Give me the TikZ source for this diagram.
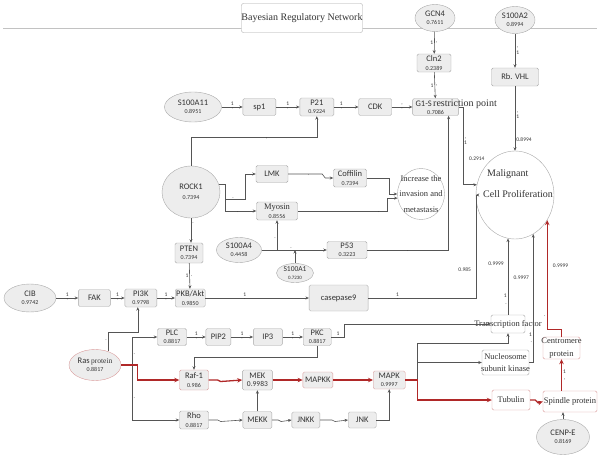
\documentclass[tikz,border=0pt]{standalone}
\usepackage{fontspec}
\setmainfont{Liberation Serif}
\newfontfamily\lblfont{Carlito}
\usepackage{tikz}
\usetikzlibrary{arrows.meta,positioning,shapes.geometric,backgrounds}
\definecolor{boxfill}{HTML}{EDEDED}
\definecolor{boxline}{HTML}{A8A8A8}
\definecolor{txt}{HTML}{333333}
\definecolor{linegray}{HTML}{555555}
\definecolor{redline}{HTML}{D99A9A}
\definecolor{arrred}{HTML}{B02828}
\newcommand{\lbl}{\lblfont\fontsize{8.5}{8.5}\selectfont}
\newcommand{\vsz}{\fontsize{6}{6.5}\selectfont}
\newcommand{\sertx}{\rmfamily\fontsize{8.5}{10}\selectfont}

\begin{document}
\begin{tikzpicture}[
        x=1pt, y=-1pt,
        box/.style={rectangle, draw=boxline, fill=boxfill, rounded corners=1.5pt, inner sep=0pt, align=center, font=\lbl, text=txt},
        redbox/.style={box, draw=redline, fill=white},
        plainbox/.style={box, fill=white},
        oval/.style={ellipse, draw=boxline, fill=boxfill, inner sep=0pt, align=center, font=\lbl, text=txt},
        ring/.style={ellipse, draw=boxline, fill=white, inner sep=0pt},
        titlebox/.style={rectangle, draw=boxline, fill=white, rounded corners=2pt, inner sep=0pt, minimum width=120, minimum height=29, font=\rmfamily\fontsize{10}{12}\selectfont, text=txt},
        bigtx/.style={inner sep=0pt, font=\rmfamily\fontsize{10}{12}\selectfont, text=txt},
        mk/.style={inner sep=1pt, font=\lblfont\fontsize{5.5}{6.5}\selectfont, text=txt},
        arrow/.style={draw=linegray, line width=0.6pt, -{Stealth[length=3.5pt,width=3pt]}},
        redarrow/.style={draw=arrred, line width=1.3pt, -{Stealth[length=5pt,width=4.5pt]}}
        ]
        \useasboundingbox (0,0) rectangle (600,458);

        \node (title) [titlebox] at (302,18) {Bayesian Regulatory Network};

        % top row
        \node (gcn4) [oval, minimum width=40, minimum height=27] at (435,18) {GCN4\\{\vsz 0.7611}};
        \node (s100a2) [oval, minimum width=40, minimum height=27] at (515,20) {S100A2\\{\vsz 0.8994}};
        \node (cln2) [box, minimum width=34, minimum height=18] at (434,63) {Cln2\\{\vsz 0.2389}};
        \node (rbvhl) [box, minimum width=47, minimum height=18] at (515,77) {Rb. VHL};
        \node (s100a11) [oval, minimum width=57, minimum height=30] at (193,107) {S100A11\\{\vsz 0.8951}};
        \node (sp1) [box, minimum width=33, minimum height=17, right=21pt of s100a11] {sp1};
        \node (p21) [box, minimum width=34, minimum height=18, right=23.5pt of sp1] {P21\\{\vsz 0.9224}};
        \node (cdk) [box, minimum width=33, minimum height=17, right=24.5pt of p21] {CDK};
        \node (g1s) [box, minimum width=46, minimum height=17, right=20.5pt of cdk] {\makebox[0pt][l]{\hspace*{-20pt}G1-S\,{\rmfamily\fontsize{10}{10}\selectfont restriction point}}\\{\vsz 0.7086}};

        % invasion part
        \node (rock1) [oval, minimum width=58, minimum height=52] at (191,192) {ROCK1\\[2pt]{\vsz 0.7394}};
        \node (lmk) [box, minimum width=32, minimum height=17] at (272,174) {LMK};
        \node (cofilin) [box, minimum width=33, minimum height=18] at (350,178) {Coffilin\\{\vsz 0.7394}};
        \node (myosin) [box, minimum width=41, minimum height=18] at (277,211) {{\sertx Myosin}\\{\vsz 0.8556}};
        \node (inc) [ring, minimum width=47, minimum height=51] at (421,194) {};
        \node (inctx) [inner sep=0pt, align=center, font=\rmfamily\fontsize{8.5}{15.5}\selectfont, text=txt] at (inc) {Increase the\\invasion and\\metastasis};
        \node (s100a4) [oval, minimum width=45, minimum height=25] at (239,250) {S100A4\\{\vsz 0.4458}};
        \node (p53) [box, minimum width=40, minimum height=17] at (347,250) {P53\\{\vsz 0.3223}};
        \node (s100a1) [oval, minimum width=37, minimum height=19, font=\lblfont\fontsize{7.5}{7.5}\selectfont] at (295,273) {S100A1\\{\fontsize{5}{5}\selectfont 0.7230}};
        \node (pten) [box, minimum width=28, minimum height=20] at (189,253) {PTEN\\{\vsz 0.7394}};

        % PI3K row
        \node (cib) [oval, minimum width=52, minimum height=28] at (30,298) {CIB\\{\vsz 0.9742}};
        \node (fak) [box, minimum width=32, minimum height=17, right=22pt of cib] {FAK};
        \node (pi3k) [box, minimum width=32, minimum height=18, right=14pt of fak] {PI3K\\{\vsz 0.9798}};
        \node (pkb) [box, minimum width=30, minimum height=18, right=18pt of pi3k] {PKB/Akt\\{\vsz 0.9850}};
        \node (case9) [box, minimum width=59, minimum height=26, right=103.5pt of pkb] {casepase9};

        % target
        \node (mal) [ring, minimum width=78, minimum height=88] at (515,195) {};
        \node (maltop) [bigtx, anchor=base west] at (487,176) {Malignant};
        \node (malbot) [bigtx, anchor=base west] at (483,197) {Cell Proliferation};

        % Ras part
        \node (ras) [oval, draw=redline, minimum width=52, minimum height=31] at (95,365) {Ras\,{\rmfamily\fontsize{7.5}{7.5}\selectfont protein}\\{\vsz 0.8817}};
        \node (plc) [box, minimum width=29, minimum height=17] at (172,337) {PLC\\{\vsz 0.8817}};
        \node (pip2) [box, minimum width=25, minimum height=17, right=19pt of plc] {PIP2};
        \node (ip3) [box, minimum width=29, minimum height=17, right=22pt of pip2] {IP3};
        \node (pkc) [box, minimum width=28, minimum height=17, right=20.5pt of ip3] {PKC\\{\vsz 0.8817}};
        \node (raf) [redbox, fill=boxfill, minimum width=29, minimum height=20] at (194,380) {Raf-1\\{\vsz 0.986}};
        \node (mek) [box, minimum width=30, minimum height=20, right=33.5pt of raf] {MEK\\{\fontsize{7.5}{7.5}\selectfont 0.9983}};
        \node (mapkk) [redbox, fill=boxfill, minimum width=30, minimum height=16, right=30pt of mek] {MAPKK};
        \node (mapk) [redbox, fill=boxfill, minimum width=32, minimum height=18, right=40pt of mapkk] {MAPK\\{\vsz 0.9997}};
        \node (rho) [box, minimum width=29, minimum height=18] at (194,420) {Rho\\{\vsz 0.8817}};
        \node (mekk) [box, minimum width=29, minimum height=17, right=34pt of rho] {MEKK};
        \node (jnkk) [box, minimum width=28, minimum height=16, right=19.5pt of mekk] {JNKK};
        \node (jnk) [box, minimum width=28, minimum height=16, right=28pt of jnkk] {JNK};

        % right column
        \node (tf) [plainbox, minimum width=34, minimum height=18] at (508,324) {\makebox[0pt]{\sertx Transcription factor}};
        \node (nuc) [plainbox, minimum width=47, minimum height=25] at (505.5,362.5) {\makebox[0pt]{\sertx Nucleosome}\\[4pt]\makebox[0pt]{\sertx subunit kinase}};
        \node (tub) [redbox, minimum width=38, minimum height=20] at (511,400) {\makebox[0pt]{\sertx Tubulin}};
        \node (cent) [redbox, minimum width=37, minimum height=22] at (561.5,348) {\makebox[0pt]{\sertx Centromere}\\[4pt]\makebox[0pt]{\sertx protein}};
        \node (spin) [redbox, minimum width=54, minimum height=21] at (570,401.5) {\makebox[0pt]{\sertx Spindle protein}};
        \node (cenpe) [oval, minimum width=53, minimum height=35] at (563,437) {CENP-E\\{\vsz 0.8169}};

        \begin{scope}[on background layer]
            \draw [boxline!70, line width=0.6pt] (3,28) -- (597,28);
        \end{scope}

        \draw [arrow] (s100a11) -- node[mk,above]{1} node[mk,below]{,} (sp1);
        \draw [arrow] (sp1) -- node[mk,above]{1} node[mk,below]{,} (p21);
        \draw [arrow] (p21) -- node[mk,above,pos=.3]{1} node[mk,below,pos=.3]{,} (cdk);
        \draw [arrow] (cdk) -- node[mk,above]{,} node[mk,below]{,} (g1s);
        \draw [arrow] (gcn4) -- node[mk,left]{1} node[mk,right]{,} (cln2);
        \draw [arrow] (cln2) -- node[mk,left]{1} node[mk,right]{,} (g1s);
        \draw [arrow] (s100a2) -- node[mk,right,align=center]{,\\1} (rbvhl);
        \draw [arrow] (rbvhl) -- node[mk,right,align=center,pos=.45]{,\\1} node[mk,right,pos=.82]{0.8994} (rbvhl.south |- mal.north);
        \draw [arrow] (g1s.east) -- ++(4,0) |- node[mk,right,align=center,pos=.22]{,\\1} node[mk,right,xshift=5pt,pos=.33]{0.2914} (mal.165);

        \draw [arrow] (rock1.north) -- ++(0,-29) -| node[mk,below,pos=.3]{,} (p21.south);
        \draw [arrow] (rock1.15) -- ++(6,0) -- ++(0,15) -- node[mk,above,pos=.4]{.} ++(20,0) |- (lmk.west);
        \draw [arrow] (rock1.15) -- ++(6,0) |- node[mk,below,pos=.7]{.} (myosin.west);
        \draw [arrow] (rock1.south) -- node[mk,right,pos=.2]{.} (rock1.south |- pten.north);
        \draw [arrow] (pten) -- node[mk,left]{1} node[mk,right]{.} (pkb);
        \draw [arrow] (lmk.east) -- node[mk,below,pos=.6]{.} ++(34,0) -- ++(3,4) -- (cofilin.west);
        \draw [arrow] (cofilin.east) -- ++(23,0) |- (inc.west);
        \draw [arrow] (myosin.east) -- node[mk,below,pos=.9]{.} ++(90,0) |- (inc.190);
        \draw [arrow] (s100a4) -- node[mk,above,pos=.45]{.} (p53);
        \draw [arrow] (s100a4.east) -| node[mk,left,pos=.7]{.} (myosin.south);
        \draw [arrow] (s100a1) -- (s100a1 |- s100a4);
        \draw [arrow] (p53) -| node[mk,below,pos=.25]{.} ([xshift=13pt]g1s.south);

        \draw [arrow] (cib) -- node[mk,above]{1} node[mk,below]{,} (fak);
        \draw [arrow] (fak) -- node[mk,above]{1} node[mk,below]{,} (pi3k);
        \draw [arrow] (pi3k) -- node[mk,above]{1} node[mk,below]{,} (pkb);
        \draw [arrow] (pkb) -- node[mk,above,pos=.38]{1} node[mk,below,pos=.38]{.} (case9);
        \draw [arrow] (case9.east) -- node[mk,above,pos=.27]{1} node[mk,below,pos=.27]{.} ++(108,0) |- node[mk,left,xshift=-4pt,pos=.14]{0.985} (mal.west);

        \draw [arrow] (ras.46) -- node[mk,left,pos=.6]{.} ++(0,-19) -| ([xshift=-3pt]pi3k.south);
        \draw [arrow] (ras.east) -- ++(11,0) |- node[mk,right,pos=.2]{.} (plc.west);
        \draw [arrow] (ras.east) -- ++(11,0) |- node[mk,right,pos=.3]{.} (rho.west);
        \draw [arrow] (plc) -- node[mk,above]{1} node[mk,below]{,} (pip2);
        \draw [arrow] (pip2) -- node[mk,above]{1} node[mk,below]{,} (ip3);
        \draw [arrow] (ip3) -- node[mk,above]{1} node[mk,below]{,} (pkc);
        \draw [arrow] (pkc.east) -- node[mk,above]{1} ++(13,0) |- (tf.west);
        \draw [arrow] (pkc.south) -- ++(0,12) -| (raf.north);
        \draw [arrow] (rho.east) -- ++(9,0) -- ++(3,1.5) -- (mekk.west);
        \draw [arrow] (mekk.east) -- ++(6,0) -- ++(3,1.5) -- (jnkk.west);
        \draw [arrow] (jnkk.east) -- ++(12,0) -- ++(3,1.5) -- (jnk.west);
        \draw [arrow] (mekk) -- (mek);
        \draw [arrow] (jnk.east) -| (mapk.south);
        \draw [arrow] (mapk.east) -- ++(12,0) |- (nuc.west);
        \draw [arrow] (mapk.east) -- ++(12,0) -- ++(0,-37) -| (tf.south);

        \draw [arrow] (tf.north) -- node[mk,left,pos=.14]{.} node[mk,left,pos=.25]{1} node[mk,left,xshift=-3pt,pos=.67]{0.9999} (tf.north |- mal.261);
        \draw [arrow] (nuc.east) -| node[mk,left,pos=.58]{.} node[mk,left,pos=.61]{1} node[mk,left,xshift=-3pt,pos=.83]{0.9997} (mal.295);

        % red path
        \draw [redarrow] (ras.east) -- ++(16,0) |- (raf.west);
        \draw [redarrow] (raf.east) -- ++(9,0) -- ++(3,1.5) -- (mek.west);
        \draw [redarrow] (mek) -- (mapkk);
        \draw [redarrow] (mapkk) -- (mapk);
        \draw [redarrow] (mapk.east) -- ++(12,0) |- (tub.west);
        \draw [redarrow] (tub.east) -- ++(5,0) -- ++(3,3) -- (spin.west);
        \draw [redarrow] (cent.south |- spin.north) -- node[mk,right,align=center]{1\\,} (cent.south);
        \draw [redarrow] (cent.north) -- ++(0,-7) -| node[mk,left,pos=.56]{.} node[mk,right,xshift=4pt,pos=.79]{0.9999} (mal.322);
        \draw [arrow] (cenpe) -- (cenpe |- spin.south);
\end{tikzpicture}
\end{document}
